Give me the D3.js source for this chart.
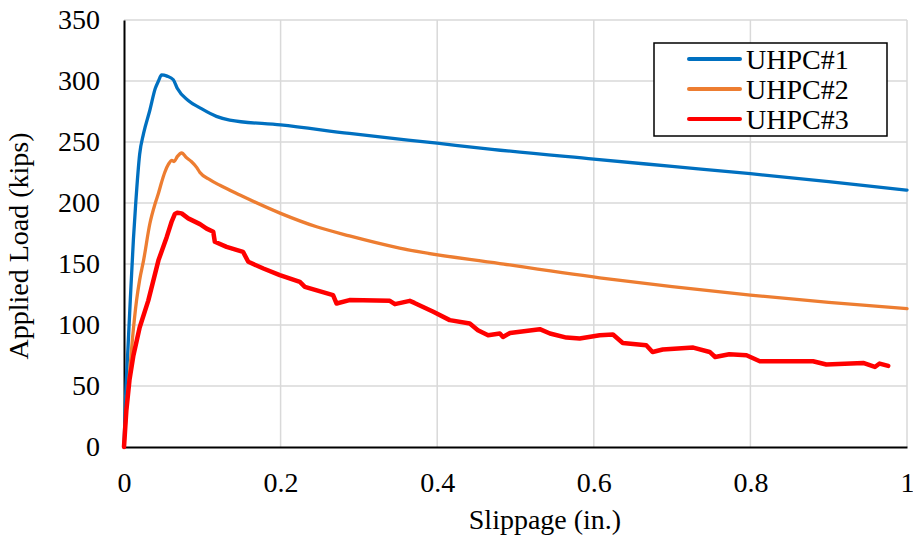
<!DOCTYPE html>
<html><head><meta charset="utf-8">
<script src="https://cdn.jsdelivr.net/npm/d3@7"></script>
<style>
body{margin:0;background:#fff;} svg{display:block;}
svg text{font-family:"Liberation Serif","Times New Roman",Times,serif;}
</style>
</head><body>
<svg id="chart" width="913" height="540"></svg>
<script>
const seriesNames = ["UHPC#1", "UHPC#2", "UHPC#3"];
const seriesColors = ["#0070C0", "#ED7D31", "#FF0000"];
const xTicks = [0, 0.2, 0.4, 0.6, 0.8, 1];
const yTicks = [0, 50, 100, 150, 200, 250, 300, 350];

const uhpc1 = [[0,0],[0.002,40],[0.005,80],[0.008,120],[0.012,170],[0.015,200],[0.02,240],[0.025,257],[0.033,276],[0.04,294],[0.044,300],[0.048,305],[0.055,304],[0.063,301],[0.068,294],[0.082,284],[0.097,278],[0.118,271],[0.135,268],[0.2,264],[0.288,257],[0.4,249],[0.47,244],[0.6,236],[0.7,230],[0.8,224],[0.9,217.5],[1.0,210.5]];
const uhpc2 = [[0,0],[0.003,30],[0.007,60],[0.011,90],[0.016,120],[0.02,137],[0.025,153],[0.033,183],[0.04,200],[0.044,208],[0.048,217],[0.052,225],[0.057,232],[0.061,235],[0.064,234],[0.068,238],[0.0736,241],[0.08,237],[0.086,234],[0.093,229],[0.097,225],[0.11,219],[0.1225,214.5],[0.148,206.5],[0.2,191.5],[0.246,180.5],[0.288,173],[0.352,163],[0.48,150.4],[0.6075,138.7],[0.7,131.5],[0.8,124.5],[0.9,118.5],[1.0,113.5]];
const uhpc3 = [[0,0],[0.003,30],[0.007,55],[0.012,75],[0.02,98],[0.031,120],[0.044,153],[0.0545,172],[0.061,185],[0.065,191],[0.068,192],[0.0736,191.5],[0.082,187.4],[0.097,182.7],[0.1055,179],[0.114,176.4],[0.116,168.2],[0.131,164],[0.152,160],[0.1587,151.8],[0.178,146.3],[0.199,140.9],[0.2246,135.4],[0.231,131.3],[0.267,124.5],[0.2715,117.6],[0.288,120.4],[0.3395,119.8],[0.346,117.1],[0.365,119.8],[0.371,118.1],[0.395,110.8],[0.416,104],[0.4416,101.2],[0.452,95.7],[0.465,91.6],[0.48,93],[0.484,90.2],[0.493,93.5],[0.531,96.6],[0.544,93],[0.565,89.7],[0.582,88.9],[0.6075,91.6],[0.6245,92.2],[0.637,85.3],[0.667,83.4],[0.675,77.9],[0.688,79.9],[0.727,81.5],[0.748,77.9],[0.755,73.8],[0.773,76],[0.795,75.2],[0.812,70.3],[0.837,70.3],[0.88,70.3],[0.897,67.6],[0.944,68.9],[0.959,65.6],[0.965,68.4],[0.976,66.5]];
const seriesData = [uhpc1, uhpc2, uhpc3];

const svg = d3.select("#chart");
const L = 124, R = 907, T = 20, B = 447;
const x = d3.scaleLinear().domain([0, 1]).range([L, R]);
const y = d3.scaleLinear().domain([0, 350]).range([B, T]);

svg.append("g").selectAll("line").data(yTicks.filter(d => d > 0)).join("line")
  .attr("x1", L).attr("x2", R).attr("y1", d => y(d)).attr("y2", d => y(d))
  .attr("stroke", "#d9d9d9").attr("stroke-width", 1.5);
svg.append("g").selectAll("line").data(xTicks.filter(d => d > 0)).join("line")
  .attr("x1", d => x(d)).attr("x2", d => x(d)).attr("y1", T).attr("y2", B)
  .attr("stroke", "#d9d9d9").attr("stroke-width", 1.5);

const xAxis = d3.axisBottom(x).tickValues(xTicks).tickSize(0).tickPadding(25).tickFormat(d => d3.format("")(d));
const gx = svg.append("g").attr("transform", `translate(0,${B})`).call(xAxis);
gx.attr("font-family", null).attr("font-size", null);
gx.select(".domain").attr("stroke", "#000").attr("stroke-width", 2);
gx.selectAll("text").attr("font-size", 28).attr("fill", "#000");

const yAxis = d3.axisLeft(y).tickValues(yTicks).tickSize(0).tickPadding(24);
const gy = svg.append("g").attr("transform", `translate(${L},0)`).call(yAxis);
gy.attr("font-family", null).attr("font-size", null);
gy.select(".domain").attr("stroke", "#000").attr("stroke-width", 2);
gy.selectAll("text").attr("font-size", 28).attr("fill", "#000");

const smooth = d3.line().x(d => x(d[0])).y(d => y(d[1])).curve(d3.curveMonotoneX);
const jagged = d3.line().x(d => x(d[0])).y(d => y(d[1]));
seriesData.forEach((s, i) => {
  svg.append("path").datum(s).attr("d", i === 2 ? jagged : smooth)
    .attr("fill", "none").attr("stroke", seriesColors[i])
    .attr("stroke-width", i === 2 ? 4.5 : 3.3)
    .attr("stroke-linejoin", "round").attr("stroke-linecap", "round");
});

svg.append("text").attr("x", 545).attr("y", 529).attr("text-anchor", "middle")
  .attr("font-size", 28).attr("fill", "#000").text("Slippage (in.)");
svg.append("text").attr("transform", `translate(28,246) rotate(-90)`).attr("text-anchor", "middle")
  .attr("font-size", 28).attr("fill", "#000").text("Applied Load (kips)");

const lg = svg.append("g");
lg.append("rect").attr("x", 654).attr("y", 43).attr("width", 233).attr("height", 93)
  .attr("fill", "#fff").attr("stroke", "#000").attr("stroke-width", 1.5);
seriesNames.forEach((n, i) => {
  const yy = 59 + i * 30;
  lg.append("line").attr("x1", 689).attr("x2", 740).attr("y1", yy).attr("y2", yy)
    .attr("stroke", seriesColors[i]).attr("stroke-width", 4).attr("stroke-linecap", "round");
  lg.append("text").attr("x", 746).attr("y", yy).attr("dy", "0.34em")
    .attr("font-size", 28).attr("fill", "#000").text(n);
});
</script>
</body></html>
